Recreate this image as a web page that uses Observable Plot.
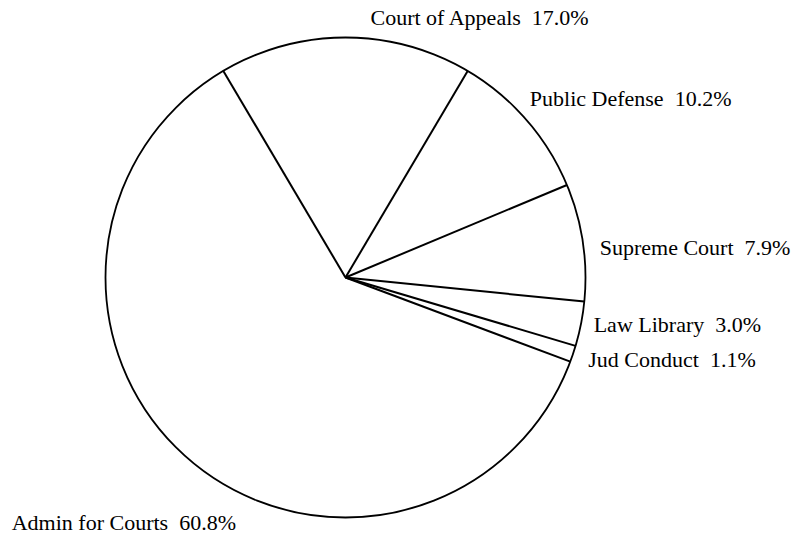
<!DOCTYPE html>
<html>
<head>
<meta charset="utf-8">
<script src="https://cdn.jsdelivr.net/npm/d3@7"></script>
<script src="https://cdn.jsdelivr.net/npm/@observablehq/plot@0.6"></script>
<style>
  html, body { margin: 0; padding: 0; background: #fff; }
  #chart svg { display: block; }
</style>
</head>
<body>
<div id="chart"></div>
<script>
// ---- data (clockwise from the top) ----
const categories = ["Court of Appeals", "Public Defense", "Supreme Court", "Law Library", "Jud Conduct", "Admin for Courts"];
const shares = [17.0, 10.2, 7.9, 3.0, 1.1, 60.8];

// ---- layout ----
const W = 810, H = 535;
const cx = 345, cy = 277, radius = 240, labelRadius = 255;
// small per-label nudges (px) applied to the angle-derived anchor
const labelDx = [25, -8, 2, -2, 1, -170];
const labelDy = [-4.5, -11, 8, -1.5, 1, 50];

const total = d3.sum(shares);
const start = -Math.PI * shares[0] / total; // first slice centred at 12 o'clock
const arcs = d3.pie().sort(null).startAngle(start).endAngle(start + 2 * Math.PI)(shares);

const slices = arcs.map((a, i) => ({
  name: categories[i],
  value: shares[i],
  a0: a.startAngle,
  mid: (a.startAngle + a.endAngle) / 2,
  i
}));

const px = a => cx + radius * Math.sin(a);
const py = a => cy - radius * Math.cos(a);

const chart = Plot.plot({
  width: W,
  height: H,
  margin: 0,
  x: {type: "identity"},
  y: {type: "identity"},
  axis: null,
  style: {background: "#fff"},
  marks: [
    Plot.dot([0], {x: () => cx, y: () => cy, r: radius, stroke: "black", strokeWidth: 1.8, fill: "white"}),
    Plot.link(slices, {
      x1: () => cx, y1: () => cy,
      x2: d => px(d.a0), y2: d => py(d.a0),
      stroke: "black", strokeWidth: 2
    }),
    Plot.text(slices, {
      x: d => cx + labelRadius * Math.sin(d.mid) + labelDx[d.i],
      y: d => cy - labelRadius * Math.cos(d.mid) + labelDy[d.i],
      text: d => `${d.name}\u00a0 ${d.value.toFixed(1)}%`,
      textAnchor: "start",
      lineAnchor: "middle",
      fontFamily: "Liberation Serif",
      fontSize: 22,
      fill: "black"
    })
  ]
});
document.getElementById("chart").appendChild(chart);
</script>
</body>
</html>
